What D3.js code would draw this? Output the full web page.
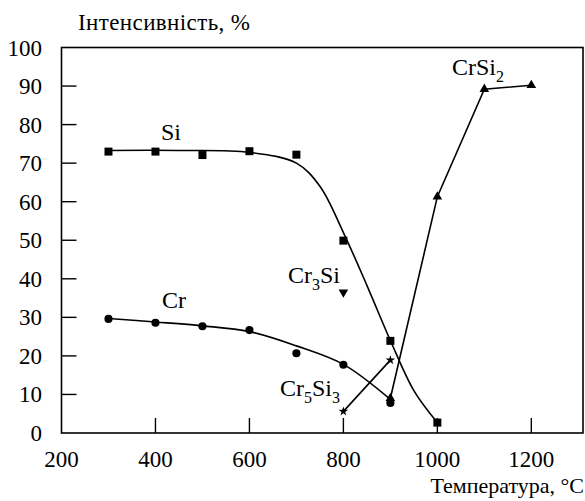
<!DOCTYPE html>
<html><head><meta charset="utf-8">
<script src="https://cdn.jsdelivr.net/npm/d3@7"></script>
<style>
html,body{margin:0;padding:0;background:#fff;}
</style></head>
<body><svg id="c" width="585" height="501"></svg>
<script>
// ---- data ----
const xTickLabels = [200, 400, 600, 800, 1000, 1200];
const xTickMarks = [400, 600, 800, 1000, 1200];
const yTickLabels = [0, 10, 20, 30, 40, 50, 60, 70, 80, 90, 100];
const yTickMarks = [10, 20, 30, 40, 50, 60, 70, 80, 90];

const siT = [300, 400, 500, 600, 700, 800, 900, 1000];
const siV = [73, 73, 72.1, 73.1, 72.2, 49.9, 23.9, 2.7];
const siFitT = [300, 450, 600, 700, 750, 800, 850, 900, 950, 1000];
const siFitV = [73.3, 73.3, 72.8, 70, 64, 52, 38.3, 24, 11, 2.7];

const crT = [300, 400, 500, 600, 700, 800, 900];
const crV = [29.6, 28.6, 27.7, 26.7, 20.7, 17.7, 7.8];
const crFitT = [300, 400, 500, 600, 700, 800, 900];
const crFitV = [29.7, 28.8, 27.8, 26.3, 22.6, 17.8, 8.7];

const cr3siT = [800];
const cr3siV = [36.5];

const cr5si3T = [800, 900];
const cr5si3V = [5.6, 18.9];

const crsi2T = [900, 1000, 1100, 1200];
const crsi2V = [9, 61.3, 89.2, 90.2];

const yTitle = "Інтенсивність, %";
const xTitle = "Температура, °C";

// ---- chart ----
const FONT = "Liberation Serif, DejaVu Serif, Times New Roman, serif";
const svg = d3.select("#c");
const x = d3.scaleLinear().domain([200, 1310]).range([61.5, 583]);
const y = d3.scaleLinear().domain([0, 100]).range([433, 47.5]);
const zip = (a, b) => a.map((d, i) => [d, b[i]]);

// frame
svg.append("rect").attr("x", x(200)).attr("y", y(100))
  .attr("width", x(1310) - x(200)).attr("height", y(0) - y(100))
  .attr("fill", "none").attr("stroke", "#000").attr("stroke-width", 1.6);

// ticks (inward)
svg.selectAll(".xt").data(xTickMarks).enter().append("line")
  .attr("x1", d => x(d)).attr("x2", d => x(d)).attr("y1", y(0)).attr("y2", y(0) - 15)
  .attr("stroke", "#000").attr("stroke-width", 1.4);
svg.selectAll(".yt").data(yTickMarks).enter().append("line")
  .attr("y1", d => y(d)).attr("y2", d => y(d)).attr("x1", x(200)).attr("x2", x(200) + 15)
  .attr("stroke", "#000").attr("stroke-width", 1.4);

// tick labels
svg.selectAll(".xl").data(xTickLabels).enter().append("text")
  .style("font-family", FONT)
  .attr("x", d => x(d)).attr("y", 467).attr("text-anchor", "middle")
  .attr("font-size", 23).text(d => d);
svg.selectAll(".yl").data(yTickLabels).enter().append("text")
  .style("font-family", FONT)
  .attr("x", 42).attr("y", d => y(d) + 8).attr("text-anchor", "end")
  .attr("font-size", 23).text(d => d);

// axis titles
svg.append("text").style("font-family", FONT).attr("x", 78).attr("y", 30).attr("font-size", 23)
  .attr("textLength", 172).attr("lengthAdjust", "spacing").text(yTitle);
svg.append("text").style("font-family", FONT).attr("x", 584).attr("y", 493).attr("text-anchor", "end").attr("font-size", 22).text(xTitle);

// lines
const lineSmooth = d3.line().x(d => x(d[0])).y(d => y(d[1])).curve(d3.curveCatmullRom.alpha(0.5));
const lineStraight = d3.line().x(d => x(d[0])).y(d => y(d[1]));
const addPath = (data, gen) => svg.append("path").attr("d", gen(data))
  .attr("fill", "none").attr("stroke", "#000").attr("stroke-width", 1.6);
addPath(zip(siFitT, siFitV), lineSmooth);
addPath(zip(crFitT, crFitV), lineSmooth);
addPath(zip(cr5si3T, cr5si3V), lineStraight);
addPath(zip(crsi2T, crsi2V), lineStraight);

// markers
const addMarkers = (T, V, type, size, rot) => {
  svg.append("g").selectAll("path").data(zip(T, V)).enter().append("path")
    .attr("d", d3.symbol().type(type).size(size))
    .attr("transform", d => `translate(${x(d[0])},${y(d[1])}) rotate(${rot || 0})`)
    .attr("fill", "#000");
};
addMarkers(crsi2T, crsi2V, d3.symbolTriangle, 40);
addMarkers(siT, siV, d3.symbolSquare, 64);
addMarkers(crT, crV, d3.symbolCircle, 52);
addMarkers(cr3siT, cr3siV, d3.symbolTriangle, 40, 180);
addMarkers(cr5si3T, cr5si3V, d3.symbolStar, 28);

// series labels
const lab = (px, py, parts) => {
  const t = svg.append("text").style("font-family", FONT).attr("x", px).attr("y", py).attr("font-size", 24);
  parts.forEach(p => {
    if (p.sub) t.append("tspan").attr("font-size", 16).attr("dy", 7).text(p.s);
    else t.append("tspan").attr("dy", p.back ? -7 : 0).text(p.s);
  });
};
lab(161, 140, [{s: "Si"}]);
lab(162, 308, [{s: "Cr"}]);
lab(288, 283, [{s: "Cr"}, {s: "3", sub: true}, {s: "Si", back: true}]);
lab(280, 396, [{s: "Cr"}, {s: "5", sub: true}, {s: "Si", back: true}, {s: "3", sub: true}]);
lab(452, 75, [{s: "CrSi"}, {s: "2", sub: true}]);
</script></body></html>
